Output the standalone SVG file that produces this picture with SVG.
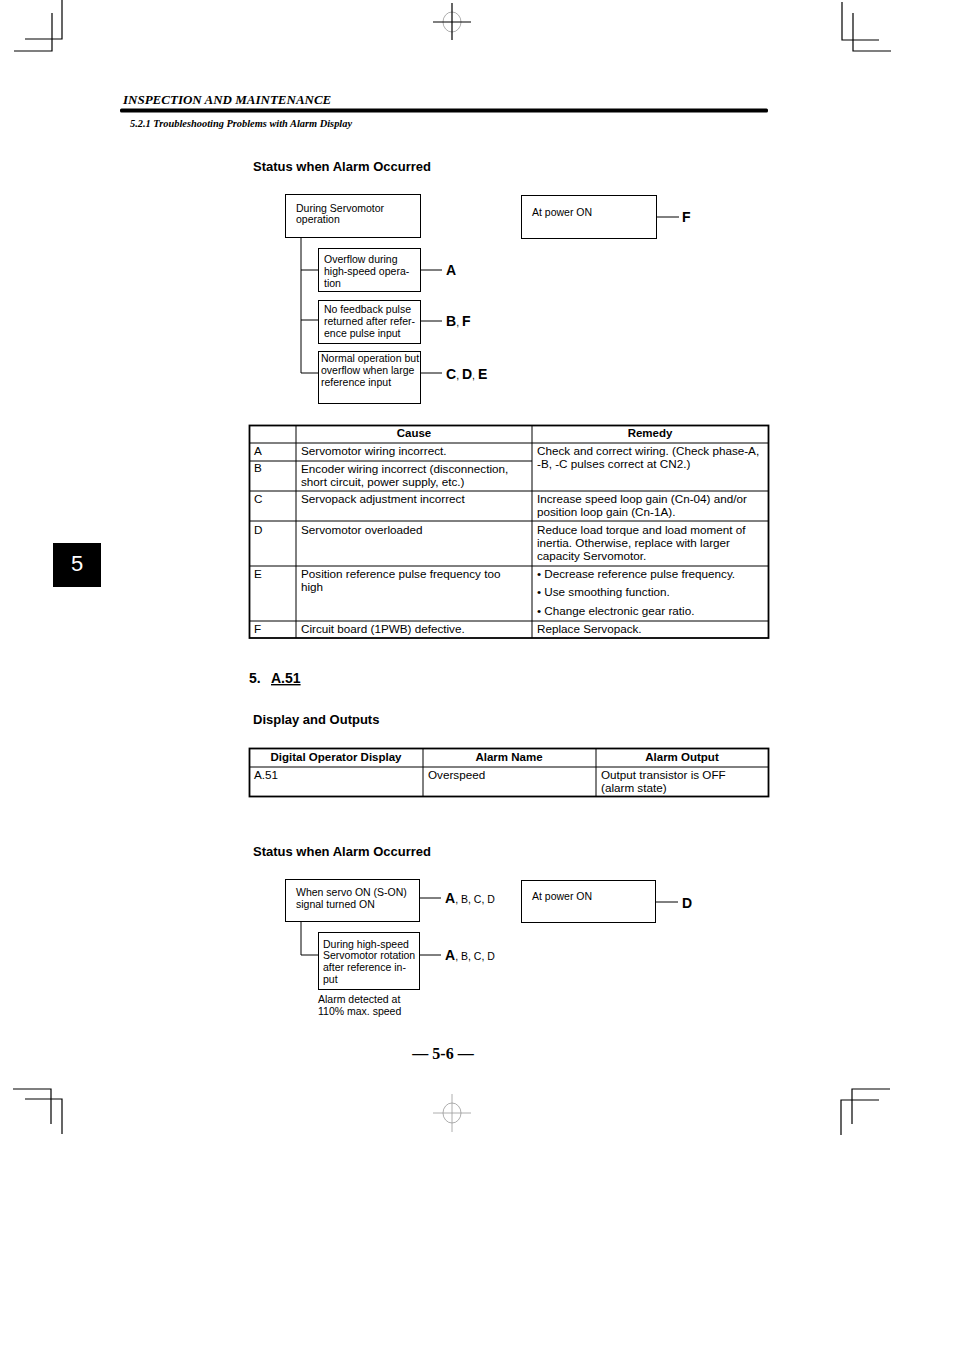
<svg xmlns="http://www.w3.org/2000/svg" width="954" height="1351" viewBox="0 0 954 1351">
<style>
.crop{stroke:#000;stroke-width:1.2;fill:none}
.reg{stroke:#000;stroke-width:1.2;fill:none}
.regc{stroke:#999;stroke-width:0.8;fill:none}
.box{fill:#fff;stroke:#000;stroke-width:1}
.ln{stroke:#000;stroke-width:1;fill:none}
.t{font-family:"Liberation Sans",Arial,sans-serif;font-size:10.5px;fill:#000}
.tt{font-family:"Liberation Sans",Arial,sans-serif;font-size:11.7px;fill:#000}
.th{font-family:"Liberation Sans",Arial,sans-serif;font-size:11.5px;font-weight:bold;fill:#000}
.h{font-family:"Liberation Sans",Arial,sans-serif;font-size:13px;font-weight:bold;fill:#000}
.lab{font-family:"Liberation Sans",Arial,sans-serif;font-size:14px;font-weight:bold;fill:#000}
.sm{font-family:"Liberation Sans",Arial,sans-serif;font-size:10.5px;font-weight:normal}
.tb{stroke:#000;stroke-width:1;fill:none}
.tbo{stroke:#000;stroke-width:1.8;fill:none}
</style>
<rect width="954" height="1351" fill="#fff"/>
<g id="cropmarks">
<path class="crop" d="M62,0V39H25M52,13V51H14"/>
<path class="crop" d="M842,2V40H879M853,13V51H891"/>
<path class="crop" d="M13,1089H51V1124M25,1099H62V1134"/>
<path class="crop" d="M890,1089H852V1124M879,1100H841V1135"/>
<ellipse class="regc" cx="452" cy="22" rx="9" ry="10"/>
<path class="reg" d="M433,22H471M452,3V40"/>
<ellipse class="regc" cx="452" cy="1113" rx="9" ry="10"/>
<path class="regc" d="M433,1113H471M452,1094V1132"/>
</g>
<g id="header">
<text x="123" y="104" font-family="Liberation Serif,Times New Roman,serif" font-size="13" font-style="italic" font-weight="bold">INSPECTION AND MAINTENANCE</text>
<rect x="120" y="108.5" width="648" height="4" rx="1.5" fill="#000"/>
<text x="130" y="127" font-family="Liberation Serif,Times New Roman,serif" font-size="10.2" font-style="italic" font-weight="bold" textLength="222" lengthAdjust="spacingAndGlyphs">5.2.1 Troubleshooting Problems with Alarm Display</text>
</g>
<g id="tab5">
<rect x="53" y="543" width="48" height="44" fill="#000"/>
<text x="77" y="571" text-anchor="middle" font-family="Liberation Sans,Arial,sans-serif" font-size="22" fill="#fff">5</text>
</g>
<text class="h" x="253" y="171">Status when Alarm Occurred</text>
<g id="connectors1">
<path class="ln" d="M301,237V373M301,270H318M301,320H318M301,373H318"/>
<path class="ln" d="M420,270H442M420,321H442M420,373H442M656,217H679"/>
</g>
<g id="n-during">
<rect class="box" x="285.5" y="194.5" width="135" height="43"/>
<text class="t" x="296" y="212">During Servomotor</text>
<text class="t" x="296" y="223">operation</text>
</g>
<g id="n-power1">
<rect class="box" x="521.5" y="195.5" width="135" height="43"/>
<text class="t" x="532" y="216">At power ON</text>
<text class="lab" x="682" y="222">F</text>
</g>
<g id="n-overflow">
<rect class="box" x="318.5" y="248.5" width="102" height="43"/>
<text class="t" x="324" y="263">Overflow during</text>
<text class="t" x="324" y="275">high-speed opera-</text>
<text class="t" x="324" y="287">tion</text>
<text class="lab" x="446" y="275">A</text>
</g>
<g id="n-nofeedback">
<rect class="box" x="318.5" y="300.5" width="102" height="43"/>
<text class="t" x="324" y="313">No feedback pulse</text>
<text class="t" x="324" y="325">returned after refer-</text>
<text class="t" x="324" y="337">ence pulse input</text>
<text class="lab" x="446" y="326">B<tspan class="sm">, </tspan>F</text>
</g>
<g id="n-normal">
<rect class="box" x="318.5" y="351.5" width="102" height="52"/>
<text class="t" x="321" y="362">Normal operation but</text>
<text class="t" x="321" y="374">overflow when large</text>
<text class="t" x="321" y="386">reference input</text>
<text class="lab" x="446" y="379">C<tspan class="sm">, </tspan>D<tspan class="sm">, </tspan>E</text>
</g>
<g id="table1">
<path class="tb" d="M249,443H769M249,461H532M249,491H769M249,521H769M249,566H769M249,621H769M296,425V638M532,425V638"/>
<rect class="tbo" x="249.5" y="425.5" width="519" height="212.5"/>
<text class="th" x="414" y="437" text-anchor="middle">Cause</text>
<text class="th" x="650" y="437" text-anchor="middle">Remedy</text>
<text class="tt" x="254" y="455">A</text>
<text class="tt" x="301" y="455">Servomotor wiring incorrect.</text>
<text class="tt" x="537" y="455">Check and correct wiring. (Check phase-A,</text>
<text class="tt" x="537" y="468">-B, -C pulses correct at CN2.)</text>
<text class="tt" x="254" y="472">B</text>
<text class="tt" x="301" y="473">Encoder wiring incorrect (disconnection,</text>
<text class="tt" x="301" y="486">short circuit, power supply, etc.)</text>
<text class="tt" x="254" y="503">C</text>
<text class="tt" x="301" y="503">Servopack adjustment incorrect</text>
<text class="tt" x="537" y="503">Increase speed loop gain (Cn-04) and/or</text>
<text class="tt" x="537" y="516">position loop gain (Cn-1A).</text>
<text class="tt" x="254" y="534">D</text>
<text class="tt" x="301" y="534">Servomotor overloaded</text>
<text class="tt" x="537" y="534">Reduce load torque and load moment of</text>
<text class="tt" x="537" y="547">inertia. Otherwise, replace with larger</text>
<text class="tt" x="537" y="560">capacity Servomotor.</text>
<text class="tt" x="254" y="578">E</text>
<text class="tt" x="301" y="578">Position reference pulse frequency too</text>
<text class="tt" x="301" y="591">high</text>
<text class="tt" x="537" y="578">• Decrease reference pulse frequency.</text>
<text class="tt" x="537" y="596">• Use smoothing function.</text>
<text class="tt" x="537" y="615">• Change electronic gear ratio.</text>
<text class="tt" x="254" y="633">F</text>
<text class="tt" x="301" y="633">Circuit board (1PWB) defective.</text>
<text class="tt" x="537" y="633">Replace Servopack.</text>
</g>
<text x="249" y="683" font-family="Liberation Sans,Arial,sans-serif" font-size="14" font-weight="bold">5.</text>
<text x="271" y="683" font-family="Liberation Sans,Arial,sans-serif" font-size="14" font-weight="bold" text-decoration="underline">A.51</text>
<text class="h" x="253" y="724">Display and Outputs</text>
<g id="table2">
<path class="tb" d="M423,748V797M596,748V797"/>
<path class="tb" d="M249,767H769" stroke-width="1.4"/>
<rect class="tbo" x="249.5" y="748.5" width="519" height="48"/>
<text class="th" x="336" y="761" text-anchor="middle">Digital Operator Display</text>
<text class="th" x="509" y="761" text-anchor="middle">Alarm Name</text>
<text class="th" x="682" y="761" text-anchor="middle">Alarm Output</text>
<text class="tt" x="254" y="779">A.51</text>
<text class="tt" x="428" y="779">Overspeed</text>
<text class="tt" x="601" y="779">Output transistor is OFF</text>
<text class="tt" x="601" y="792">(alarm state)</text>
</g>
<text class="h" x="253" y="856">Status when Alarm Occurred</text>
<g id="connectors2">
<path class="ln" d="M301,921V955H318M419,898H441M419,955H441M655,902H678"/>
</g>
<g id="n-servoon">
<rect class="box" x="285.5" y="879.5" width="134" height="42"/>
<text class="t" x="296" y="896">When servo ON (S-ON)</text>
<text class="t" x="296" y="908">signal turned ON</text>
<text class="lab" x="445" y="903">A<tspan class="sm">, B, C, D</tspan></text>
</g>
<g id="n-power2">
<rect class="box" x="521.5" y="880.5" width="134" height="42"/>
<text class="t" x="532" y="900">At power ON</text>
<text class="lab" x="682" y="908">D</text>
</g>
<g id="n-highspeed">
<rect class="box" x="318.5" y="932.5" width="101" height="57"/>
<text class="t" x="323" y="948">During high-speed</text>
<text class="t" x="323" y="959">Servomotor rotation</text>
<text class="t" x="323" y="971">after reference in-</text>
<text class="t" x="323" y="983">put</text>
<text class="lab" x="445" y="960">A<tspan class="sm">, B, C, D</tspan></text>
<text class="t" x="318" y="1003">Alarm detected at</text>
<text class="t" x="318" y="1015">110% max. speed</text>
</g>
<text x="443" y="1059" text-anchor="middle" font-family="Liberation Serif,Times New Roman,serif" font-size="16" font-weight="bold">— 5-6 —</text>
</svg>
